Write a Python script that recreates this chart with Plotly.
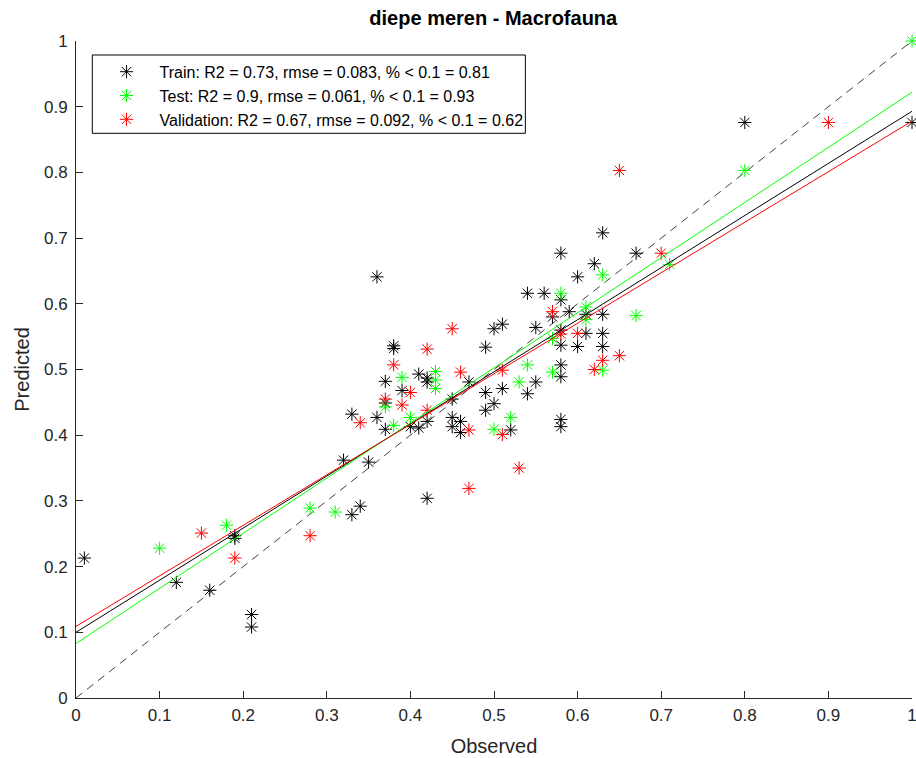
import plotly.graph_objects as go

# ---------------- data ----------------
train_obs = [0.01, 0.12, 0.16, 0.19, 0.19, 0.21, 0.21,
             0.32, 0.35, 0.33, 0.34, 0.42,
             0.36, 0.38, 0.38, 0.41, 0.42, 0.42, 0.37, 0.47,
             0.39, 0.37, 0.33, 0.36, 0.37, 0.42, 0.40, 0.41,
             0.45, 0.45, 0.45, 0.46, 0.46,
             0.58, 0.54, 0.56, 0.58, 0.57, 0.59, 0.55, 0.51, 0.50, 0.49, 0.58, 0.58, 0.58, 0.58, 0.55,
             0.49, 0.51, 0.54, 0.50, 0.49, 0.52, 0.58, 0.58,
             0.63, 0.67, 0.62, 0.60, 0.61, 0.63, 0.61, 0.63, 0.60, 0.63,
             0.80, 1.00]
train_pred = [0.213, 0.176, 0.164, 0.247, 0.243, 0.127, 0.108,
              0.362, 0.359, 0.279, 0.292, 0.304,
              0.641, 0.536, 0.532, 0.493, 0.487, 0.481, 0.482, 0.481,
              0.468, 0.449, 0.432, 0.427, 0.409, 0.421, 0.413, 0.411,
              0.455, 0.427, 0.413, 0.421, 0.404,
              0.677, 0.616, 0.616, 0.606, 0.580, 0.588, 0.564, 0.569, 0.562, 0.534, 0.560, 0.537, 0.507, 0.489, 0.481,
              0.465, 0.471, 0.463, 0.448, 0.438, 0.408, 0.424, 0.413,
              0.708, 0.677, 0.661, 0.641, 0.584, 0.584, 0.555, 0.555, 0.535, 0.535,
              0.876, 0.876]

test_obs = [0.10, 0.18, 0.28, 0.31, 0.39, 0.43, 0.43, 0.43, 0.37, 0.38, 0.40,
            0.58, 0.57, 0.54, 0.57, 0.53, 0.52, 0.50,
            0.71, 0.63, 0.61, 0.61, 0.67, 0.63, 0.80, 1.00]
test_pred = [0.228, 0.263, 0.289, 0.283, 0.488, 0.497, 0.484, 0.471, 0.443, 0.415, 0.427,
             0.616, 0.547, 0.507, 0.496, 0.481, 0.427, 0.409,
             0.660, 0.644, 0.595, 0.576, 0.582, 0.499, 0.803, 1.000]

val_obs = [0.15, 0.19, 0.28, 0.45, 0.42, 0.38, 0.46, 0.40, 0.37, 0.39, 0.34, 0.42,
           0.47, 0.47, 0.51, 0.57, 0.58, 0.51, 0.53,
           0.70, 0.60, 0.65, 0.63, 0.62, 0.65, 0.90]
val_pred = [0.251, 0.213, 0.247, 0.562, 0.531, 0.507, 0.496, 0.465, 0.455, 0.446, 0.419, 0.438,
            0.408, 0.319, 0.499, 0.588, 0.554, 0.401, 0.350,
            0.677, 0.555, 0.521, 0.514, 0.500, 0.803, 0.876]

# regression lines (intercept, slope)
fit_train = (0.100, 0.793)
fit_test = (0.083, 0.839)
fit_val = (0.109, 0.769)

tick_vals = [0, 0.1, 0.2, 0.3, 0.4, 0.5, 0.6, 0.7, 0.8, 0.9, 1]
tick_text = ["0", "0.1", "0.2", "0.3", "0.4", "0.5", "0.6", "0.7", "0.8", "0.9", "1"]

legend_labels = ["Train: R2 = 0.73, rmse = 0.083, % < 0.1 = 0.81",
                 "Test: R2 = 0.9, rmse = 0.061, % < 0.1 = 0.93",
                 "Validation: R2 = 0.67, rmse = 0.092, % < 0.1 = 0.62"]
colors = ["#000000", "#00ff00", "#ff0000"]
line_x = [0, 1]

FONT = "Liberation Sans, Arial, Helvetica, sans-serif"
AX = "#262626"

fig = go.Figure()

# 1:1 dashed line
fig.add_trace(go.Scatter(x=line_x, y=line_x, mode="lines",
                         line=dict(color="#404040", width=1, dash="8px,6px"),
                         showlegend=False, hoverinfo="skip"))

for (obs, pred), col, lab in zip(
        [(train_obs, train_pred), (test_obs, test_pred), (val_obs, val_pred)],
        colors, legend_labels):
    fig.add_trace(go.Scatter(x=obs, y=pred, mode="markers", name=lab,
                             marker=dict(symbol="asterisk-open", size=11,
                                         color=col, line=dict(color=col, width=1)),
                             cliponaxis=False))
for fit, col in zip([fit_train, fit_test, fit_val], colors):
    b, m = fit
    fig.add_trace(go.Scatter(x=line_x, y=[b + m * xx for xx in line_x], mode="lines",
                             line=dict(color=col, width=1),
                             showlegend=False, hoverinfo="skip"))

axis_common = dict(range=[0, 1], tickmode="array", tickvals=tick_vals, ticktext=tick_text,
                   showgrid=False, zeroline=False, ticklabeloverflow="allow", automargin=False,
                   showline=True, linecolor=AX, linewidth=1, ticks="inside", ticklen=7,
                   tickcolor=AX, tickwidth=1, tickfont=dict(family=FONT, size=17, color=AX),
                   mirror=False)

fig.update_layout(
    width=916, height=758,
    margin=dict(l=76, r=4, t=41, b=60),
    plot_bgcolor="white", paper_bgcolor="white",
    font=dict(family=FONT, color=AX),
    title=dict(text="<b>diepe meren - Macrofauna</b>", x=0.5385, xanchor="center",
               y=1 - 18 / 758, yanchor="middle", yref="container",
               font=dict(family=FONT, size=20, color="#000000")),
    xaxis=dict(**axis_common, ticklabelstandoff=2,
               title=dict(text="Observed", font=dict(family=FONT, size=20, color=AX), standoff=14)),
    yaxis=dict(**axis_common, ticklabelstandoff=4,
               title=dict(text="Predicted", font=dict(family=FONT, size=20, color=AX), standoff=8)),
    legend=dict(x=0.021, y=0.979, xanchor="left", yanchor="top", bgcolor="rgba(0,0,0,0)",
                borderwidth=0, font=dict(family=FONT, size=16, color="#000000"),
                itemwidth=56, tracegroupgap=0),
    shapes=[dict(type="rect", xref="paper", yref="paper", x0=0.0195, x1=0.5375,
                 y0=0.8595, y1=0.9787, line=dict(color="#000000", width=1),
                 fillcolor="rgba(0,0,0,0)", layer="above")],
    showlegend=True,
)

fig.write_html("out.html")
